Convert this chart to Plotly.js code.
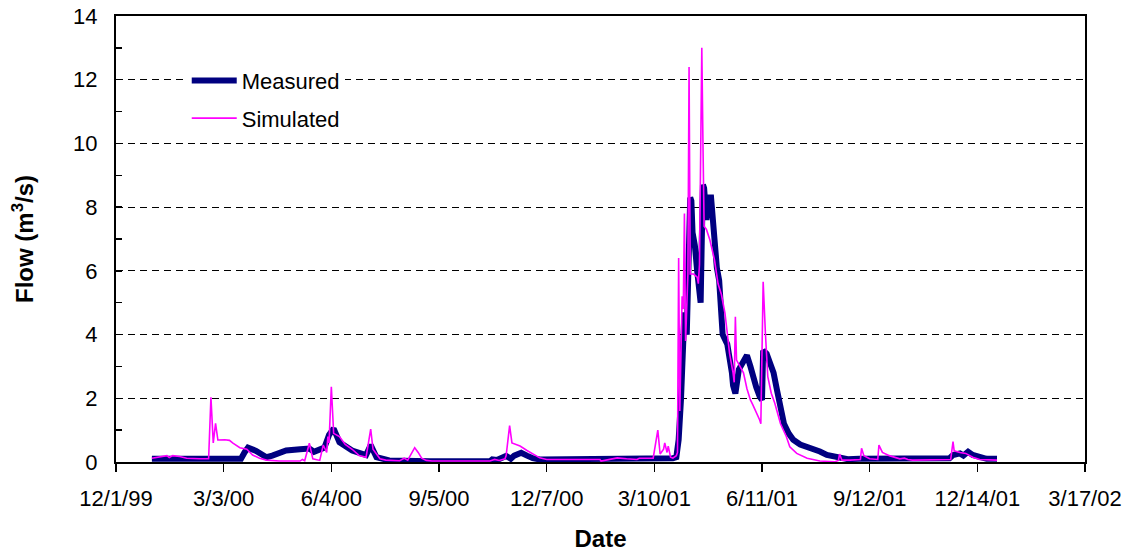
<!DOCTYPE html>
<html>
<head>
<meta charset="utf-8">
<script src="https://cdn.plot.ly/plotly-3.0.1.min.js"></script>
<style>
  html, body { margin: 0; padding: 0; background: #fff; }
  #chart { width: 1131px; height: 557px; }
</style>
</head>
<body>
<div id="chart"></div>
<script>
// Daily streamflow record, Jan 2000 - Dec 2001 (m3/s)
const measuredDates = [
  '2000-01-01','2000-03-18','2000-03-21','2000-03-24','2000-03-31','2000-04-09','2000-04-14',
  '2000-04-26','2000-05-08','2000-05-16','2000-05-20','2000-05-24','2000-05-29','2000-06-02',
  '2000-06-06','2000-06-11','2000-06-22','2000-07-04','2000-07-06','2000-07-08','2000-07-13',
  '2000-07-24','2000-08-28','2000-10-19','2000-10-21','2000-10-25','2000-11-02','2000-11-06',
  '2000-11-09','2000-11-15','2000-11-20','2000-11-25','2000-12-01','2001-01-22','2001-02-25',
  '2001-03-26','2001-03-29','2001-03-31','2001-04-02','2001-04-03','2001-04-04','2001-04-05',
  '2001-04-07','2001-04-09','2001-04-10','2001-04-11','2001-04-12','2001-04-14','2001-04-16',
  '2001-04-18','2001-04-19','2001-04-20','2001-04-21','2001-04-22','2001-04-24','2001-04-26',
  '2001-04-28','2001-04-30','2001-05-03','2001-05-05','2001-05-06','2001-05-08','2001-05-12',
  '2001-05-14','2001-05-16','2001-05-17','2001-05-19','2001-05-22','2001-05-25','2001-05-29',
  '2001-06-01','2001-06-03','2001-06-06','2001-06-09','2001-06-11','2001-06-12','2001-06-15',
  '2001-06-18','2001-06-21','2001-06-24','2001-06-27','2001-06-30','2001-07-04','2001-07-08',
  '2001-07-14','2001-07-20','2001-07-26','2001-07-31','2001-08-06','2001-08-12','2001-08-18',
  '2001-08-24','2001-09-03','2001-10-08','2001-11-11','2001-11-20','2001-11-23','2001-11-29',
  '2001-12-02','2001-12-06','2001-12-10','2001-12-16','2001-12-22','2001-12-31'
];
const measuredFlow = [
  0.10,0.10,0.30,0.45,0.35,0.15,0.20,
  0.36,0.40,0.42,0.32,0.40,0.45,0.85,
  1.05,0.62,0.36,0.22,0.45,0.53,0.15,
  0.05,0.02,0.02,0.08,0.06,0.19,0.10,
  0.20,0.29,0.20,0.12,0.08,0.08,0.10,
  0.12,0.15,0.70,1.95,3.20,4.60,4.70,
  4.00,7.00,8.30,8.20,7.20,6.80,6.00,
  5.00,5.00,7.00,8.70,8.60,7.60,8.30,
  8.30,7.20,6.10,5.70,5.20,4.00,3.70,
  3.30,2.80,2.40,2.15,2.90,3.10,3.35,
  3.00,2.70,2.35,2.05,1.95,3.50,3.40,
  3.10,2.80,2.25,1.70,1.20,0.90,0.70,
  0.55,0.48,0.43,0.33,0.22,0.17,0.12,
  0.09,0.10,0.10,0.10,0.12,0.22,0.27,
  0.20,0.32,0.22,0.16,0.10,0.10
];

const simulatedDates = [
  '2000-01-01','2000-01-10','2000-01-14','2000-01-16','2000-01-19','2000-01-25','2000-01-31',
  '2000-02-11','2000-02-19','2000-02-21','2000-02-23','2000-02-25','2000-02-27','2000-03-04',
  '2000-03-08','2000-03-11','2000-03-17','2000-03-23','2000-03-28','2000-04-03','2000-04-09',
  '2000-04-20','2000-05-08','2000-05-10','2000-05-12','2000-05-16','2000-05-19','2000-05-25',
  '2000-05-28','2000-05-31','2000-06-01','2000-06-02','2000-06-04','2000-06-06','2000-06-11',
  '2000-06-16','2000-06-22','2000-06-28','2000-07-04','2000-07-08','2000-07-10','2000-07-16',
  '2000-07-21','2000-08-02','2000-08-06','2000-08-09','2000-08-15','2000-08-18','2000-08-21',
  '2000-08-25','2000-08-30','2000-10-19','2000-10-23','2000-10-27','2000-11-01','2000-11-02',
  '2000-11-05','2000-11-07','2000-11-14','2000-11-20','2000-11-26','2000-12-01','2000-12-07',
  '2001-01-22','2001-01-23','2001-01-31','2001-02-06','2001-02-14','2001-02-23','2001-02-25',
  '2001-03-09','2001-03-13','2001-03-15','2001-03-18','2001-03-19','2001-03-21','2001-03-22',
  '2001-03-24','2001-03-26','2001-03-29','2001-03-30','2001-03-31','2001-04-01','2001-04-03',
  '2001-04-04','2001-04-05','2001-04-06','2001-04-08','2001-04-09','2001-04-10','2001-04-13',
  '2001-04-16','2001-04-17','2001-04-18','2001-04-20','2001-04-21','2001-04-22','2001-04-24',
  '2001-04-27','2001-05-01','2001-05-04','2001-05-07','2001-05-10','2001-05-12','2001-05-14',
  '2001-05-17','2001-05-18','2001-05-19','2001-05-20','2001-05-23','2001-05-26','2001-05-29',
  '2001-06-01','2001-06-03','2001-06-06','2001-06-09','2001-06-10','2001-06-12','2001-06-14',
  '2001-06-16','2001-06-19','2001-06-22','2001-06-27','2001-07-02','2001-07-05','2001-07-11',
  '2001-07-20','2001-07-26','2001-07-31','2001-08-13','2001-08-16','2001-08-17','2001-08-19',
  '2001-08-26','2001-09-04','2001-09-05','2001-09-07','2001-09-12','2001-09-19','2001-09-20',
  '2001-09-23','2001-09-29','2001-10-08','2001-10-12','2001-10-15','2001-10-19','2001-11-17',
  '2001-11-21','2001-11-23','2001-11-24','2001-11-29','2001-12-04','2001-12-10','2001-12-16',
  '2001-12-31'
];
const simulatedFlow = [
  0.12,0.17,0.20,0.14,0.20,0.17,0.12,
  0.10,0.10,2.03,0.60,1.21,0.69,0.70,
  0.68,0.59,0.45,0.40,0.22,0.12,0.06,
  0.03,0.03,0.08,0.04,0.59,0.10,0.05,
  0.53,0.30,0.80,0.60,2.36,0.90,0.80,
  0.55,0.40,0.20,0.15,1.03,0.40,0.10,
  0.06,0.04,0.12,0.06,0.45,0.30,0.12,
  0.05,0.03,0.03,0.08,0.05,0.10,0.20,
  1.14,0.60,0.50,0.36,0.22,0.13,0.08,
  0.08,0.03,0.08,0.13,0.10,0.08,0.12,
  0.12,1.00,0.25,0.40,0.60,0.30,0.50,
  0.15,0.12,0.20,0.30,6.40,1.60,5.20,
  4.80,7.80,3.80,5.90,12.40,5.90,5.90,
  5.80,5.60,6.20,13.00,10.00,7.40,7.30,
  6.97,6.34,5.60,5.25,4.67,4.05,3.40,
  2.80,2.50,4.56,3.20,3.00,2.80,2.30,
  1.95,1.80,1.58,1.32,1.20,5.66,4.00,
  2.68,2.16,1.85,1.20,0.80,0.48,0.27,
  0.12,0.06,0.03,0.01,0.05,0.25,0.06,
  0.06,0.08,0.43,0.20,0.10,0.08,0.53,
  0.30,0.20,0.10,0.12,0.08,0.06,0.06,
  0.08,0.64,0.35,0.30,0.27,0.15,0.08,
  0.06
];

// Date axis ticks every 93 days
const dateTicks = ['1999-12-01','2000-03-03','2000-06-04','2000-09-05','2000-12-07',
                   '2001-03-10','2001-06-11','2001-09-12','2001-12-14','2002-03-17'];
const dateTickLabels = ['12/1/99','3/3/00','6/4/00','9/5/00','12/7/00',
                        '3/10/01','6/11/01','9/12/01','12/14/01','3/17/02'];

const FONT = 'Liberation Sans, Arial, sans-serif';

const traces = [
  {
    x: measuredDates, y: measuredFlow, name: 'Measured', type: 'scatter', mode: 'lines',
    legendgroup: 'm',
    line: { color: '#000080', width: 6 }
  },
  {
    x: simulatedDates, y: simulatedFlow, name: 'Simulated', type: 'scatter', mode: 'lines',
    legendgroup: 's',
    line: { color: '#FF00FF', width: 1.6 }
  }
];

const layout = {
  width: 1131, height: 557,
  margin: { l: 116, r: 46, t: 16, b: 95 },
  paper_bgcolor: '#ffffff', plot_bgcolor: '#ffffff',
  font: { family: FONT, size: 22, color: '#000' },
  showlegend: true,
  legend: {
    x: 0.073, y: 0.902, xanchor: 'left', yanchor: 'top',
    bgcolor: '#ffffff', borderwidth: 0,
    traceorder: 'grouped', tracegroupgap: 6,
    itemwidth: 45,
    font: { family: FONT, size: 22, color: '#000' }
  },
  xaxis: {
    type: 'date',
    range: ['1999-12-01', '2002-03-17'],
    tickmode: 'array', tickvals: dateTicks, ticktext: dateTickLabels,
    ticks: 'outside', ticklen: 8, tickwidth: 1.5, tickcolor: '#000',
    ticklabelstandoff: 8,
    showline: true, linecolor: '#000', linewidth: 2, mirror: true,
    showgrid: false, zeroline: false,
    tickfont: { family: FONT, size: 22, color: '#000' },
    title: { text: 'Date', standoff: 20, font: { family: FONT, size: 24, weight: 'bold', color: '#000' } }
  },
  yaxis: {
    range: [0, 14],
    tickmode: 'linear', tick0: 0, dtick: 2,
    ticks: 'inside', ticklen: 6, tickwidth: 1.5, tickcolor: '#000',
    minor: { dtick: 1, ticks: 'inside', ticklen: 6, tickwidth: 1.5, tickcolor: '#000', showgrid: false },
    ticklabelstandoff: 12,
    showline: true, linecolor: '#000', linewidth: 2, mirror: true,
    showgrid: true, gridcolor: '#000', gridwidth: 1, griddash: '7px,5px',
    zeroline: false,
    tickfont: { family: FONT, size: 22, color: '#000' },
    title: { text: 'Flow (m<sup>3</sup>/s)', standoff: 33, font: { family: FONT, size: 24, weight: 'bold', color: '#000' } }
  }
};

Plotly.newPlot('chart', traces, layout, { displayModeBar: false, staticPlot: true });
</script>
</body>
</html>
